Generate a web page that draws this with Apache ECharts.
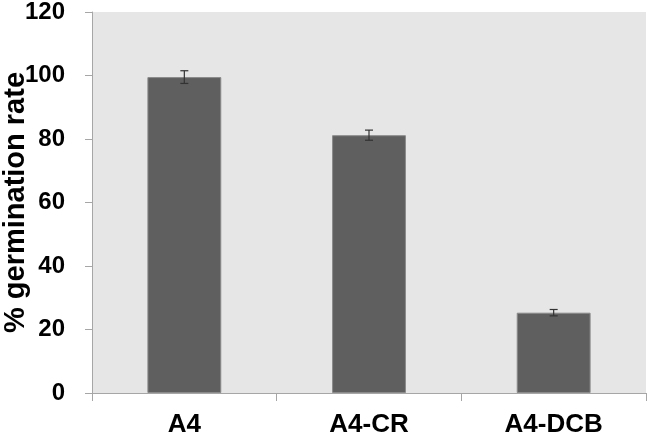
<!DOCTYPE html>
<html>
<head>
<meta charset="utf-8">
<script src="https://cdn.jsdelivr.net/npm/echarts@6/dist/echarts.min.js"></script>
<style>
  html, body { margin: 0; padding: 0; background: #fff; }
  #chart { width: 647px; height: 435px; }
</style>
</head>
<body>
<div id="chart"></div>
<script>
const categories = ["A4", "A4-CR", "A4-DCB"];
const values = [99.5, 81.2, 25.3];
const errors = [2.0, 1.6, 1.0];

const chart = echarts.init(document.getElementById("chart"));

const font = "'Liberation Sans', Arial, sans-serif";

chart.setOption({
  animation: false,
  grid: {
    left: 92, right: 1, top: 12, bottom: 42,
    outerBoundsMode: "none",
    containLabel: false,
    show: true, backgroundColor: "#e6e6e6", borderWidth: 0
  },
  xAxis: {
    type: "category",
    data: categories,
    axisLine: { lineStyle: { color: "#a6a6a6", width: 1 } },
    axisTick: { show: true, length: 8, lineStyle: { color: "#a6a6a6" } },
    axisLabel: { color: "#000", fontFamily: font, fontWeight: "bold", fontSize: 26, margin: 19 }
  },
  yAxis: {
    type: "value",
    min: 0,
    max: 120,
    interval: 20,
    name: "% germination rate",
    nameLocation: "middle",
    nameGap: 62,
    nameMoveOverlap: false,
    nameTextStyle: { color: "#000", fontFamily: font, fontWeight: "bold", fontSize: 29 },
    axisLine: { show: true, lineStyle: { color: "#a6a6a6", width: 1 } },
    axisTick: { show: true, length: 7, lineStyle: { color: "#a6a6a6" } },
    splitLine: { show: false },
    axisLabel: { color: "#000", fontFamily: font, fontWeight: "bold", fontSize: 24, margin: 27 }
  },
  series: [
    {
      type: "bar",
      data: values,
      barWidth: "40%",
      itemStyle: { color: "#5f5f5f", borderColor: "#8a8a8a", borderWidth: 1 }
    },
    {
      type: "custom",
      data: values.map((v, i) => [i, v - errors[i], v + errors[i]]),
      renderItem: function (params, api) {
        const x = api.value(0);
        const lo = api.coord([x, api.value(1)]);
        const hi = api.coord([x, api.value(2)]);
        const hw = 4;
        const style = { stroke: "#333", lineWidth: 1.2 };
        return {
          type: "group",
          children: [
            { type: "line", shape: { x1: lo[0], y1: lo[1], x2: hi[0], y2: hi[1] }, style: style },
            { type: "line", shape: { x1: lo[0] - hw, y1: lo[1], x2: lo[0] + hw, y2: lo[1] }, style: style },
            { type: "line", shape: { x1: hi[0] - hw, y1: hi[1], x2: hi[0] + hw, y2: hi[1] }, style: style }
          ]
        };
      },
      z: 10
    }
  ]
});
</script>
</body>
</html>
